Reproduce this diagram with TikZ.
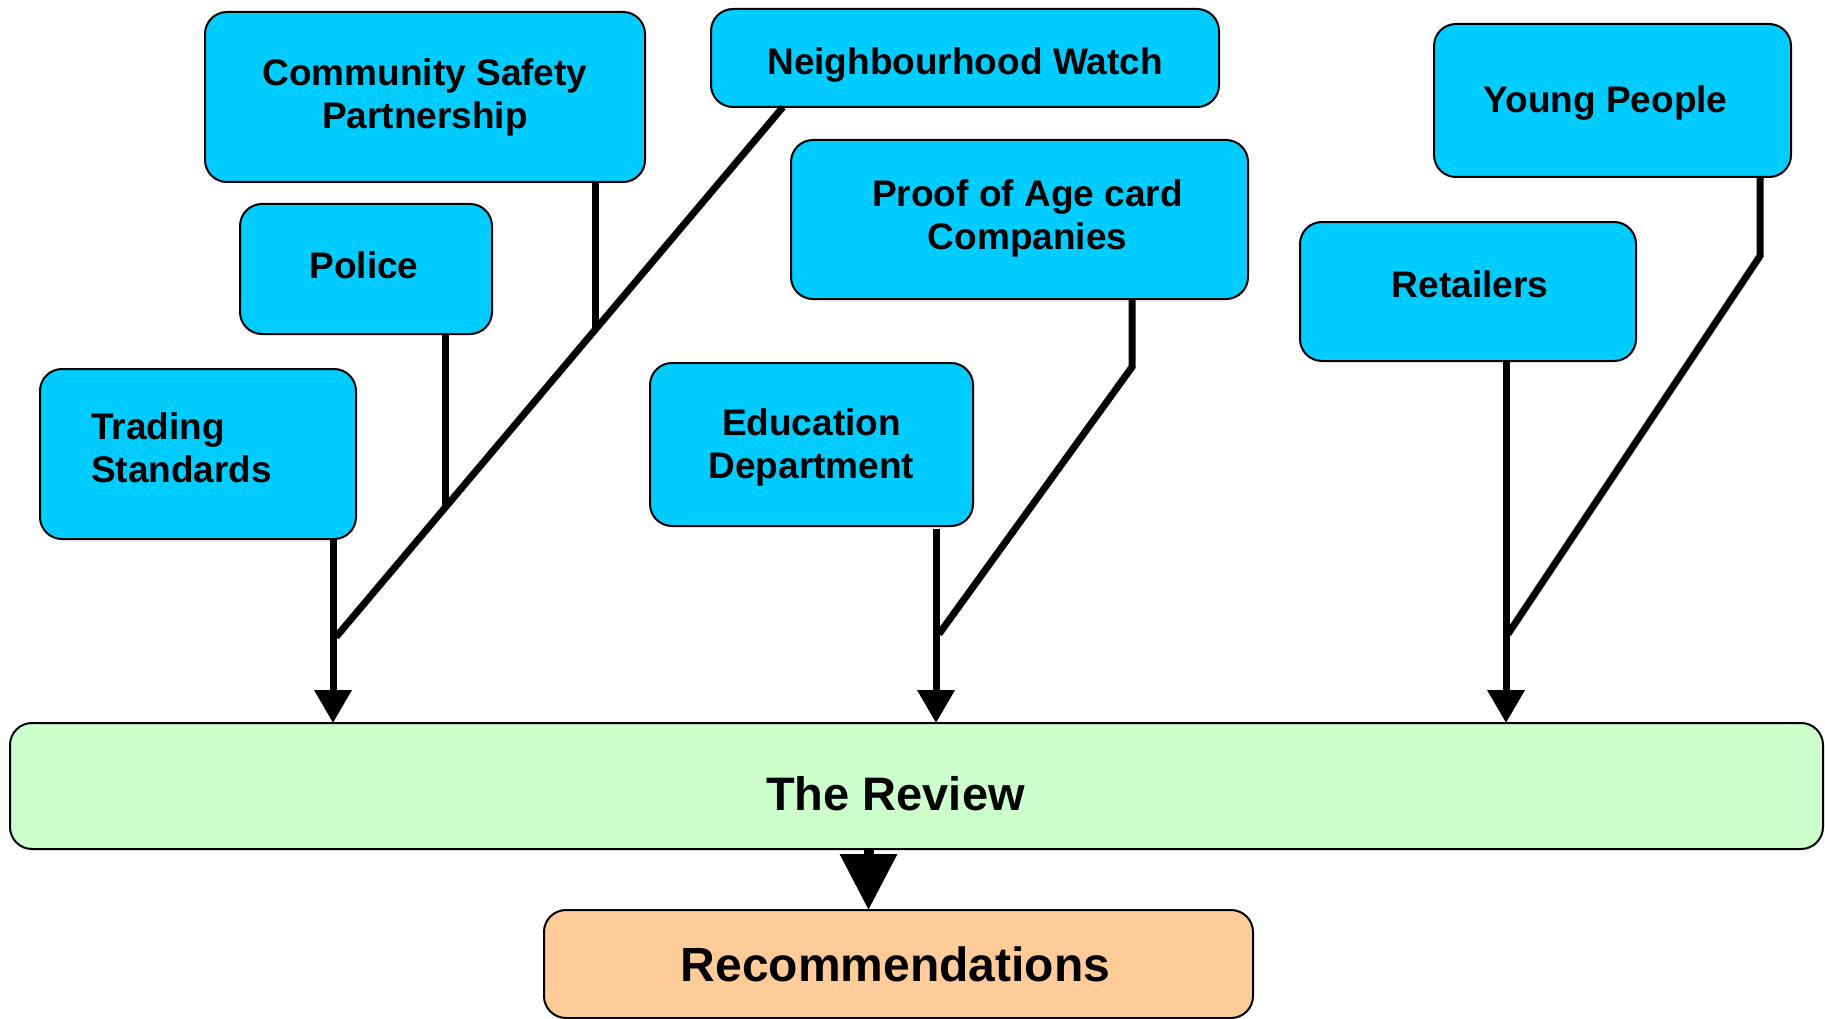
\documentclass[tikz,border=0pt]{standalone}
\usepackage{fontspec}
\setmainfont{Liberation Sans}
\usetikzlibrary{arrows.meta}
\definecolor{agency}{HTML}{00CCFF}
\definecolor{review}{HTML}{CCFFCC}
\definecolor{outcome}{HTML}{FFCC99}
\begin{document}
\begin{tikzpicture}[x=1pt,y=-1pt,
  box/.style={draw=black,line width=2pt,rounded corners=22pt,anchor=north west,
    inner sep=0pt,outer sep=0pt},
  party/.style={box,fill=agency},
  tag/.style={inner sep=0pt,align=center,font=\bfseries\fontsize{37}{43}\selectfont},
  big/.style={inner sep=0pt,font=\bfseries\fontsize{47}{56}\selectfont},
  link/.style={line width=7pt},
  feed/.style={line width=7pt,-{Triangle[length=33pt,width=36pt]}}]
\useasboundingbox (0,0) rectangle (1825,1019);

% contributing parties
\node[party,minimum width=440pt,minimum height=170pt] (csp) at (205,12) {};
\node[party,minimum width=508pt,minimum height=98pt] (nw) at (711,9) {};
\node[party,minimum width=357pt,minimum height=153pt] (yp) at (1434,24) {};
\node[party,minimum width=252pt,minimum height=130pt] (police) at (240,204) {};
\node[party,minimum width=457pt,minimum height=159pt] (proof) at (791,140) {};
\node[party,minimum width=336pt,minimum height=139pt] (ret) at (1300,222) {};
\node[party,minimum width=316pt,minimum height=170pt] (ts) at (40,369) {};
\node[party,minimum width=323pt,minimum height=163pt] (edu) at (650,363) {};

\node[tag] (csptext) at (csp.center) {Community Safety\\Partnership};
\node[tag] (nwtext) at ([yshift=-7pt]nw.center) {Neighbourhood Watch};
\node[tag] (yptext) at ([xshift=-7pt,yshift=-3pt]yp.center) {Young People};
\node[tag] (policetext) at ([xshift=-2pt,yshift=4pt]police.center) {Police};
\node[tag] (prooftext) at ([xshift=8pt,yshift=1pt]proof.center) {Proof of Age card\\Companies};
\node[tag] (rettext) at ([xshift=2pt,yshift=7pt]ret.center) {Retailers};
\node[tag,align=left,anchor=west] (tstext) at ([xshift=51pt,yshift=6pt]ts.west) {Trading\\Standards};
\node[tag] (edutext) at ([yshift=-3pt]edu.center) {Education\\Department};

% review and outcome
\node[box,fill=review,minimum width=1813pt,minimum height=126pt] (rev) at (10,723) {};
\node[box,fill=outcome,minimum width=709pt,minimum height=108pt] (rec) at (544,910) {};
\node[big] (revtext) at ([xshift=-21pt,yshift=-8pt]rev.center) {The Review};
\node[big,font=\bfseries\fontsize{48}{56}\selectfont] (rectext) at ([xshift=-3pt]rec.center) {Recommendations};

% left group
\coordinate (tsfoot) at ([xshift=-23pt]ts.south east);
\coordinate (polfoot) at ([xshift=-47pt]police.south east);
\coordinate (cspfoot) at ([xshift=-50pt]csp.south east);
\coordinate (nwfoot) at ([xshift=72pt]nw.south west);
\coordinate (jL) at (336,637);
\coordinate (jPol) at (445,506);
\coordinate (jCsp) at (595,331);
\draw[feed] (tsfoot) -- (tsfoot |- rev.north);
\draw[link] (nwfoot) -- (jL);
\draw[link] (polfoot) -- (jPol);
\draw[link] (cspfoot) -- (jCsp);

% middle group
\coordinate (edufoot) at ([xshift=-37pt,yshift=-3pt]edu.south east);
\coordinate (prooffoot) at ([xshift=-116pt]proof.south east);
\coordinate (jProof) at (1132,367);
\coordinate (jM) at (939,634);
\draw[feed] (edufoot) -- (edufoot |- rev.north);
\draw[link] (prooffoot) -- (jProof) -- (jM);

% right group
\coordinate (retfoot) at ([xshift=-130pt]ret.south east);
\coordinate (ypfoot) at ([xshift=-31pt]yp.south east);
\coordinate (jYp) at (1760,256);
\coordinate (jR) at (1508,634);
\draw[feed] (retfoot) -- (retfoot |- rev.north);
\draw[link] (ypfoot) -- (jYp) -- (jR);

% review to recommendations
\coordinate (revout) at ([xshift=-48pt]rev.south);
\draw[line width=10pt,-{Triangle[length=56pt,width=55pt]}] (revout) -- (revout |- rec.north);
\end{tikzpicture}
\end{document}
